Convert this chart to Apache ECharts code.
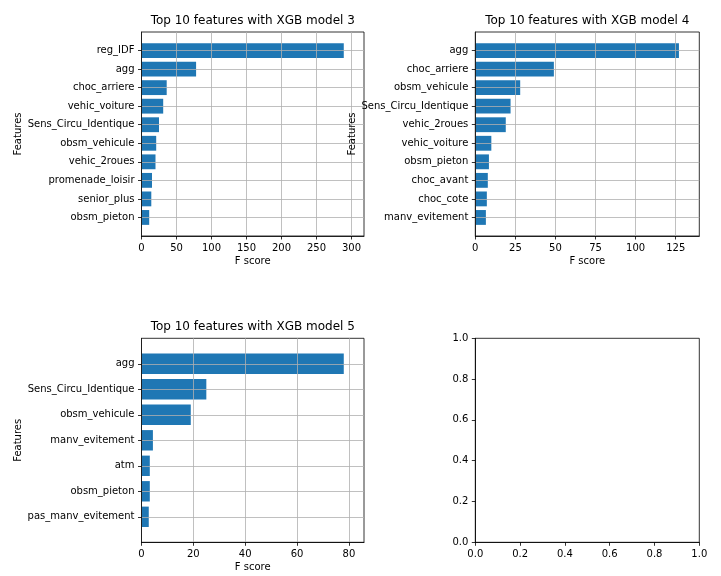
<!DOCTYPE html>
<html>
<head>
<meta charset="utf-8">
<script src="https://cdn.jsdelivr.net/npm/echarts@6/dist/echarts.min.js"></script>
<style>
html,body{margin:0;padding:0;background:#fff;}
#chart{width:721px;height:576px;}
</style>
</head>
<body>
<div id="chart"></div>
<script>
// ---- data (top-to-bottom order as in the picture) ----
var m3Title = 'Top 10 features with XGB model 3';
var m3Features = ['reg_IDF','agg','choc_arriere','vehic_voiture','Sens_Circu_Identique','obsm_vehicule','vehic_2roues','promenade_loisir','senior_plus','obsm_pieton'];
var m3Scores = [289, 78, 36, 31, 25, 21, 20, 15, 14, 11];
var m3Ticks = [0, 50, 100, 150, 200, 250, 300];

var m4Title = 'Top 10 features with XGB model 4';
var m4Features = ['agg','choc_arriere','obsm_vehicule','Sens_Circu_Identique','vehic_2roues','vehic_voiture','obsm_pieton','choc_avant','choc_cote','manv_evitement'];
var m4Scores = [127, 49, 28, 22, 19, 10, 8.5, 7.8, 7.2, 6.6];
var m4Ticks = [0, 25, 50, 75, 100, 125];

var m5Title = 'Top 10 features with XGB model 5';
var m5Features = ['agg','Sens_Circu_Identique','obsm_vehicule','manv_evitement','atm','obsm_pieton','pas_manv_evitement'];
var m5Scores = [78, 25, 19, 4.4, 3.2, 3.2, 2.8];
var m5Ticks = [0, 20, 40, 60, 80];

var emptyTicks = [0, 0.2, 0.4, 0.6, 0.8, 1.0];

// ---- layout / style ----
var FONT = 'DejaVu Sans';
var BAR = '#1f77b4';
var GRIDC = '#b0b0b0';
var boxes = [
  {left: 141.5, top: 32, width: 222.5, height: 204},
  {left: 475.3, top: 32, width: 224, height: 204},
  {left: 141.5, top: 338.3, width: 222.5, height: 204},
  {left: 475.3, top: 338.3, width: 224, height: 204}
];

var grids = [], xAxes = [], yAxes = [], series = [], titles = [];
var txt = {fontFamily: FONT, fontSize: 10, color: '#000'};
var tickStyle = {show: true, length: 3.5, lineStyle: {color: '#000', width: 0.8}};
var lineStyle = {show: true, lineStyle: {color: '#000', width: 0.8}};

boxes.forEach(function (b) {
  grids.push({left: b.left, top: b.top, width: b.width, height: b.height,
    show: true, borderColor: '#000', borderWidth: 0.8, backgroundColor: '#fff', containLabel: false});
});

function addImportance(idx, title, feats, scores, ticks) {
  var b = boxes[idx];
  var cats = [''].concat(feats.slice().reverse()).concat(['']);
  var vals = ['-'].concat(scores.slice().reverse()).concat(['-']);
  var xmax = Math.max.apply(null, scores) * 1.1;
  titles.push({text: title, left: b.left + b.width / 2, top: b.top - 17, textAlign: 'center', padding: 0,
    textStyle: {fontFamily: FONT, fontSize: 12, fontWeight: 'normal', color: '#000'}});
  xAxes.push({type: 'value', gridIndex: idx, min: 0, max: xmax, z: 5,
    name: 'F score', nameLocation: 'middle', nameGap: 20, nameTextStyle: txt,
    axisLine: lineStyle,
    axisTick: Object.assign({customValues: ticks}, tickStyle),
    axisLabel: Object.assign({customValues: ticks, margin: 7}, txt),
    splitLine: {show: true, lineStyle: {color: GRIDC, width: 0.8}}
  });
  yAxes.push({type: 'category', gridIndex: idx, data: cats, boundaryGap: false, z: 5,
    name: 'Features', nameLocation: 'middle', nameRotate: 90, nameGap: 117, nameTextStyle: txt,
    axisLine: lineStyle,
    axisTick: Object.assign({interval: function (i, v) { return v !== ''; }, alignWithLabel: true}, tickStyle),
    axisLabel: Object.assign({interval: 0, margin: 7}, txt),
    splitLine: {show: true, interval: function (i, v) { return v !== ''; }, lineStyle: {color: GRIDC, width: 0.8}}
  });
  series.push({type: 'bar', xAxisIndex: idx, yAxisIndex: idx, data: vals, barWidth: '80%',
    itemStyle: {color: BAR}, silent: true});
}

addImportance(0, m3Title, m3Features, m3Scores, m3Ticks);
addImportance(1, m4Title, m4Features, m4Scores, m4Ticks);
addImportance(2, m5Title, m5Features, m5Scores, m5Ticks);

// empty 4th panel
var fmt1 = function (v) { return Number(v).toFixed(1); };
xAxes.push({type: 'value', gridIndex: 3, min: 0, max: 1, z: 5,
  axisLine: lineStyle, axisTick: Object.assign({customValues: emptyTicks}, tickStyle),
  axisLabel: Object.assign({customValues: emptyTicks, margin: 7, formatter: fmt1}, txt), splitLine: {show: false}});
yAxes.push({type: 'value', gridIndex: 3, min: 0, max: 1, z: 5,
  axisLine: lineStyle, axisTick: Object.assign({customValues: emptyTicks}, tickStyle),
  axisLabel: Object.assign({customValues: emptyTicks, margin: 7, formatter: fmt1}, txt), splitLine: {show: false}});
series.push({type: 'line', xAxisIndex: 3, yAxisIndex: 3, data: [], silent: true});

var chart = echarts.init(document.getElementById('chart'), null, {renderer: 'canvas'});
chart.setOption({
  animation: false,
  backgroundColor: '#fff',
  textStyle: {fontFamily: FONT},
  title: titles,
  grid: grids,
  xAxis: xAxes,
  yAxis: yAxes,
  series: series
});
</script>
</body>
</html>
